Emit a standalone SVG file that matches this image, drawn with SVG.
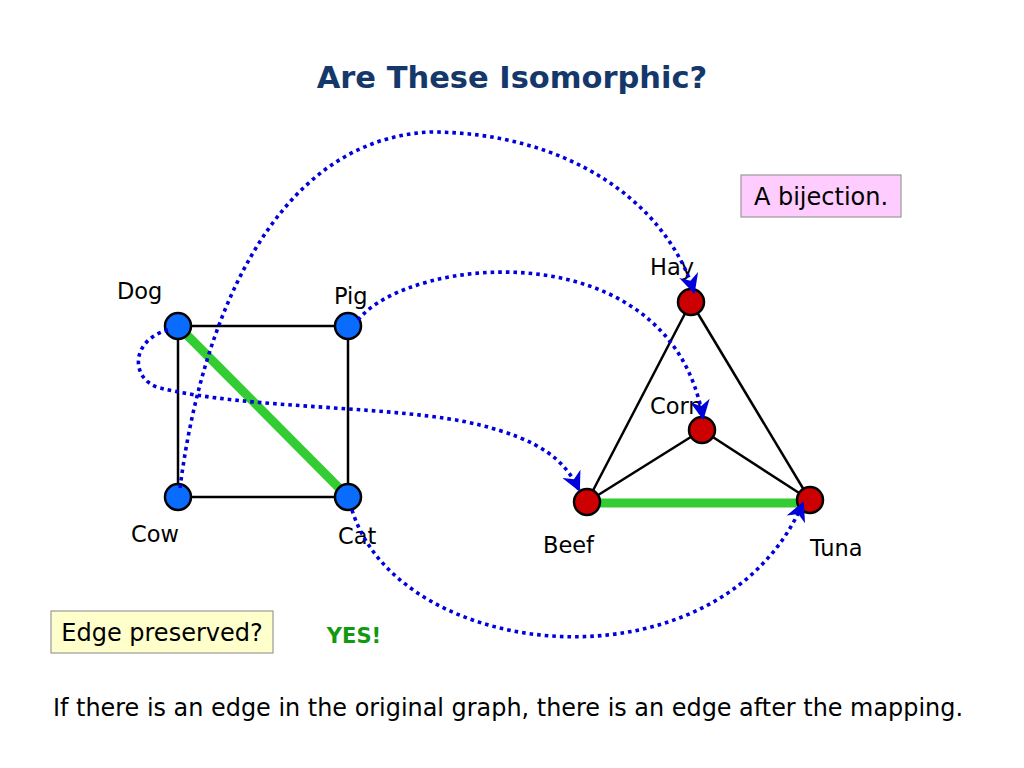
<svg xmlns="http://www.w3.org/2000/svg" width="1024" height="768" viewBox="0 0 1024 768">
<defs>
<style>
.lbl{font-family:"DejaVu Sans","Liberation Sans",sans-serif;font-size:22.5px;fill:#000}
.box{font-family:"DejaVu Sans","Liberation Sans",sans-serif;font-size:24px;fill:#000}
.edge{stroke:#000;stroke-width:2.5;fill:none}
.hl{stroke:#33cc33;stroke-width:9;stroke-linecap:butt}
.map{stroke:#0000dd;stroke-width:3.6;fill:none;stroke-dasharray:3.6 4;marker-end:url(#arr)}
.blue{fill:#0a6cff;stroke:#000;stroke-width:2.5}
.red{fill:#cc0000;stroke:#000;stroke-width:2.5}
</style>
<marker id="arr" viewBox="0 0 10 10" refX="9" refY="5" markerWidth="5.5" markerHeight="5.5" orient="auto" markerUnits="strokeWidth">
<path d="M0,0 L10,5 L0,10 L3,5 z" fill="#0000dd"/>
</marker>
</defs>
<rect width="1024" height="768" fill="#fff"/>
<text x="512" y="88" text-anchor="middle" font-family="DejaVu Sans,sans-serif" font-size="30.5" font-weight="bold" fill="#15386b">Are These Isomorphic?</text>
<g id="bijection-box">
<rect x="741" y="175" width="160" height="42" fill="#ffccff" stroke="#999" stroke-width="1.2"/>
<text x="821" y="205" text-anchor="middle" class="box">A bijection.</text>
</g>
<g id="graph-edges">
<line class="edge" x1="178" y1="326" x2="348" y2="326"/>
<line class="edge" x1="178" y1="326" x2="178" y2="497"/>
<line class="edge" x1="348" y1="326" x2="348" y2="497"/>
<line class="edge" x1="178" y1="497" x2="348" y2="497"/>
<line class="hl" x1="178" y1="326" x2="348" y2="497"/>
<line class="edge" x1="691" y1="302" x2="587" y2="502"/>
<line class="edge" x1="691" y1="302" x2="810" y2="500"/>
<line class="edge" x1="702" y1="430" x2="587" y2="502"/>
<line class="edge" x1="702" y1="430" x2="810" y2="500"/>
<line class="hl" x1="587" y1="503" x2="800" y2="503"/>
</g>
<g id="node-dog"><circle class="blue" cx="178" cy="326" r="13"/><text class="lbl" x="117" y="299">Dog</text></g>
<g id="node-pig"><circle class="blue" cx="348" cy="326" r="13"/><text class="lbl" x="334" y="304">Pig</text></g>
<g id="node-cow"><circle class="blue" cx="178" cy="497" r="13"/><text class="lbl" x="131" y="542">Cow</text></g>
<g id="node-cat"><circle class="blue" cx="348" cy="497" r="13"/><text class="lbl" x="338" y="544">Cat</text></g>
<g id="node-hay"><circle class="red" cx="691" cy="302" r="13"/><text class="lbl" x="650" y="275">Hay</text></g>
<g id="node-corn"><circle class="red" cx="702" cy="430" r="13"/><text class="lbl" x="650" y="414">Corn</text></g>
<g id="node-beef"><circle class="red" cx="587" cy="502" r="13"/><text class="lbl" x="543" y="553">Beef</text></g>
<g id="node-tuna"><circle class="red" cx="810" cy="500" r="13"/><text class="lbl" x="810" y="556">Tuna</text></g>
<g id="connectors">
<path class="map" d="M180,488 C200,330 270,140 430,132 C565,132 665,200 694,292"/>
<path class="map" d="M358,320 C410,255 670,230 703,418"/>
<path class="map" d="M168,330 C130,340 130,380 160,388 C250,410 400,405 480,425 C540,440 565,460 579,490"/>
<path class="map" d="M352,510 C400,665 720,695 803,503"/>
</g>
<g id="edge-box">
<rect x="51" y="611" width="222" height="42" fill="#ffffcc" stroke="#999" stroke-width="1.2"/>
<text x="162" y="641" text-anchor="middle" class="box">Edge preserved?</text>
</g>
<text x="354" y="643" text-anchor="middle" font-family="DejaVu Sans,sans-serif" font-size="21" font-weight="bold" fill="#119911">YES!</text>
<text x="53" y="716" class="box" textLength="910" lengthAdjust="spacingAndGlyphs">If there is an edge in the original graph, there is an edge after the mapping.</text>
</svg>
